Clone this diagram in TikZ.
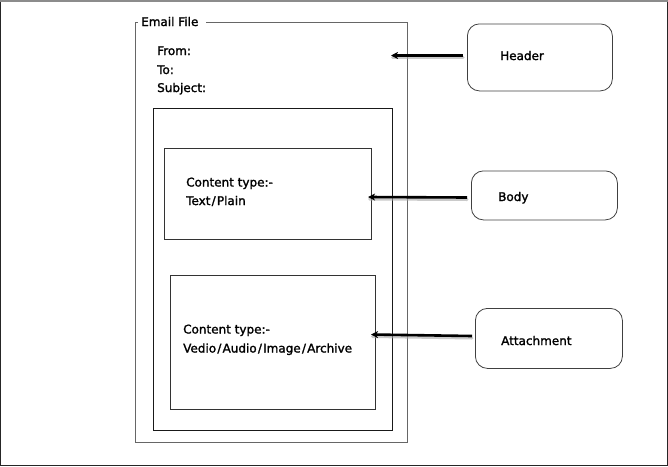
\documentclass[tikz,border=0pt]{standalone}
\usepackage{fontspec}
\setmainfont{DejaVu Sans}
\newfontfamily\lblfont[FakeBold=1.6]{DejaVu Sans}
\usetikzlibrary{arrows.meta}
\newcommand{\myslash}{\kern1.2pt/\kern1.2pt}
\tikzset{
  lbl/.style={inner sep=0pt, anchor=base west, font=\lblfont\fontsize{12}{14}\selectfont},
  frame/.style={draw, inner sep=0pt, anchor=north west},
  tag/.style={draw=black!75, rounded corners=12pt, line width=0.8pt, inner sep=0pt, anchor=north west},
  ptr/.style={line width=2.6pt, -{Stealth[length=7pt,width=7pt,inset=2pt]}},
  ptrshadow/.style={line width=3pt, draw=black!35, opacity=0.6, line cap=round}
}
\begin{document}
\begin{tikzpicture}[x=1pt,y=-1pt]
\useasboundingbox (0,0) rectangle (668,466);
% outer frame
\draw[line width=1.2pt, black!85] (0.6,1.2) -- (0.6,465.4) -- (667.4,465.4) -- (667.4,1.2);
\draw[line width=1.6pt, black!45] (0,0.8) -- (668,0.8);

% Email File box
\node[inner sep=0pt, anchor=north west, minimum width=272pt, minimum height=420pt] (ef) at (135,22) {};
\draw[black!60, line width=0.9pt] ([xshift=3pt]ef.north west) -- (ef.north west) -- (ef.south west) -- (ef.south east) -- (ef.north east) -- ([xshift=71pt]ef.north west);
\node[lbl] (eft) at (141,26) {Email File};

\node[lbl] (from) at (157,55) {From:};
\node[lbl] (to) at (157,74) {To:};
\node[lbl] (subj) at (157,92) {Subject:};

% middle box
\node[frame, draw=black!90, line width=0.8pt, minimum width=239pt, minimum height=322pt] (mid) at (152.5,108) {};

% body box
\node[frame, draw=black!80, line width=0.8pt, minimum width=207pt, minimum height=91pt] (body) at (164,148) {};
\node[lbl] (ct1) at (186,186.5) {Content type:-};
\node[lbl] (ct2) at (186,205) {Text\myslash Plain};

% attachment box
\node[frame, draw=black!80, line width=0.8pt, minimum width=205pt, minimum height=134pt] (att) at (170,275) {};
\node[lbl] (at1) at (183,333.5) {Content type:-};
\node[lbl] (at2) at (183,352.5) {Vedio\myslash Audio\myslash Image\myslash Archive};

% tags
\node[tag, minimum width=145pt, minimum height=67pt] (hdr) at (467,23.5) {};
\node[lbl] (hdrt) at (500,60) {Header};
\node[tag, minimum width=146pt, minimum height=49pt] (bdy) at (471,170.5) {};
\node[lbl] (bdyt) at (498,201) {Body};
\node[tag, minimum width=147pt, minimum height=60pt] (atg) at (475,308) {};
\node[lbl] (atgt) at (501,345) {Attachment};

% arrow endpoints
\coordinate (h1) at (463,55.5);
\coordinate (h2) at (391,55.5);
\coordinate (b1) at (467,197.5);
\coordinate (b2) at (368,197);
\coordinate (a1) at (472,336);
\coordinate (a2) at (371,334.5);

\draw[ptrshadow] ([shift={(1.5,2)}]h2) -- ([shift={(0,2)}]h1);
\draw[ptrshadow] ([shift={(1.5,2)}]b2) -- ([shift={(0,2)}]b1);
\draw[ptrshadow] ([shift={(1.5,2)}]a2) -- ([shift={(0,2)}]a1);
\draw[ptr] (h1) -- (h2);
\draw[ptr] (b1) -- (b2);
\draw[ptr] (a1) -- (a2);
\end{tikzpicture}
\end{document}
